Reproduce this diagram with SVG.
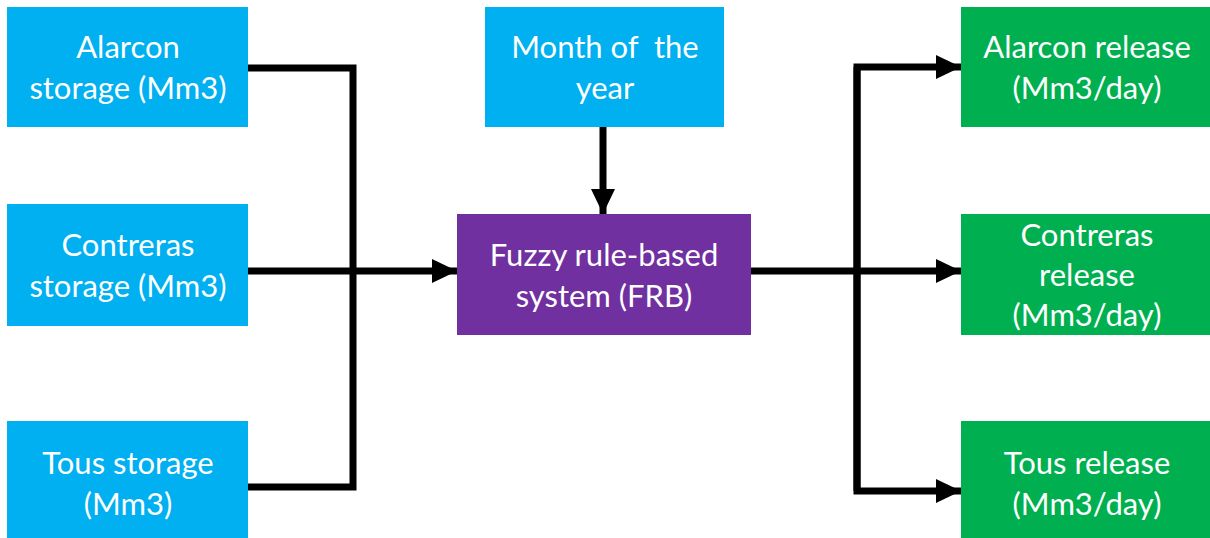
<svg xmlns="http://www.w3.org/2000/svg" width="1210" height="538" viewBox="0 0 1210 538">
  <style>
    .in { fill: #00B0F0; }
    .core { fill: #7030A0; }
    .out { fill: #00B050; }
    text { font-family: Lato, "Open Sans", "Liberation Sans", sans-serif; font-size: 31px; fill: #ffffff; text-anchor: middle; white-space: pre; }
    .wire { fill: none; stroke: #000000; stroke-width: 7; stroke-linejoin: miter; }
  </style>
  <defs>
    <marker id="head" markerUnits="userSpaceOnUse" markerWidth="26" markerHeight="26" refX="25" refY="13" orient="auto">
      <path d="M0,1 L25,13 L0,25 Z" fill="#000000"/>
    </marker>
  </defs>
  <rect width="1210" height="538" fill="#ffffff"/>

  <g id="connectors">
    <!-- inputs merge into the FRB -->
    <polyline class="wire" points="248,68 353,68 353,487 248,487"/>
    <line class="wire" x1="248" y1="271" x2="457" y2="271" marker-end="url(#head)"/>
    <line class="wire" x1="603" y1="127" x2="603" y2="214" marker-end="url(#head)"/>
    <!-- FRB fans out to the releases -->
    <line class="wire" x1="751" y1="271" x2="857" y2="271"/>
    <polyline class="wire" points="857,67 857,491 961,491" marker-end="url(#head)"/>
    <polyline class="wire" points="857,491 857,67 961,67" marker-end="url(#head)"/>
    <line class="wire" x1="857" y1="271" x2="961" y2="271" marker-end="url(#head)"/>
  </g>

  <g id="alarcon-storage">
    <rect class="in" x="7" y="7" width="241" height="120"/>
    <text x="128" y="58">Alarcon</text>
    <text x="128" y="99">storage (Mm3)</text>
  </g>
  <g id="contreras-storage">
    <rect class="in" x="7" y="204" width="241" height="122"/>
    <text x="128" y="256">Contreras</text>
    <text x="128" y="297">storage (Mm3)</text>
  </g>
  <g id="tous-storage">
    <rect class="in" x="7" y="421" width="241" height="117"/>
    <text x="128" y="474">Tous storage</text>
    <text x="128" y="515">(Mm3)</text>
  </g>
  <g id="month">
    <rect class="in" x="485" y="7" width="239" height="120"/>
    <text x="605" y="58">Month of  the</text>
    <text x="605" y="99">year</text>
  </g>
  <g id="frb">
    <rect class="core" x="457" y="214" width="294" height="121"/>
    <text x="604" y="266">Fuzzy rule-based</text>
    <text x="604" y="307">system (FRB)</text>
  </g>
  <g id="alarcon-release">
    <rect class="out" x="961" y="7" width="249" height="120"/>
    <text x="1087" y="58">Alarcon release</text>
    <text x="1087" y="99">(Mm3/day)</text>
  </g>
  <g id="contreras-release">
    <rect class="out" x="961" y="214" width="249" height="121"/>
    <text x="1087" y="246">Contreras</text>
    <text x="1087" y="286">release</text>
    <text x="1087" y="326">(Mm3/day)</text>
  </g>
  <g id="tous-release">
    <rect class="out" x="961" y="421" width="249" height="117"/>
    <text x="1087" y="474">Tous release</text>
    <text x="1087" y="515">(Mm3/day)</text>
  </g>
</svg>
